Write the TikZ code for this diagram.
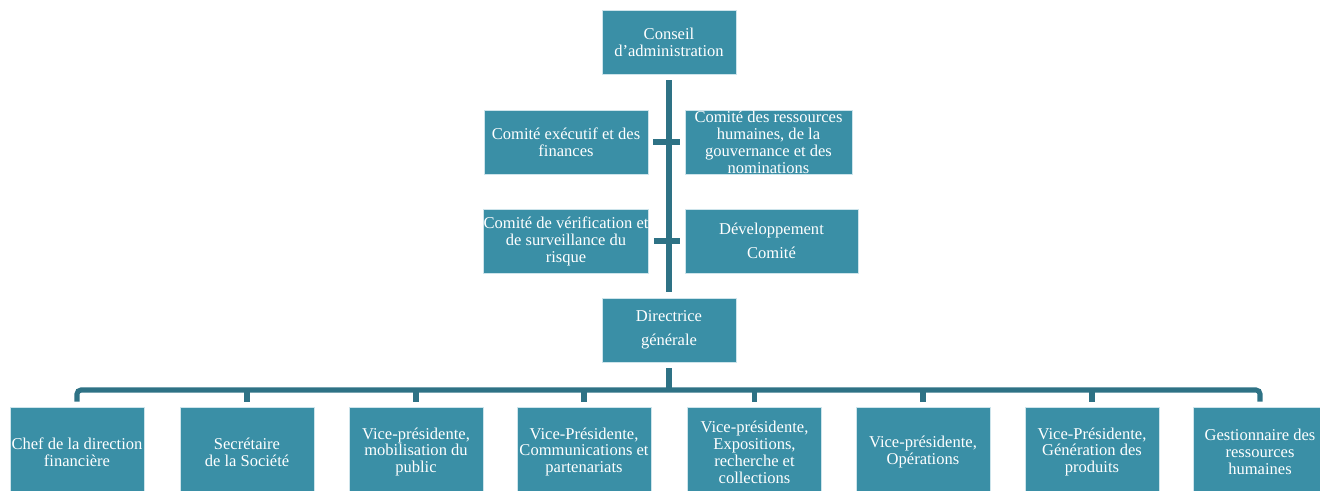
\documentclass[tikz,border=0pt]{standalone}
\usepackage{fontspec}
\setmainfont{Liberation Serif}
\definecolor{boxfill}{RGB}{58,143,166}
\definecolor{conncol}{RGB}{46,114,133}
\definecolor{boxline}{RGB}{205,228,235}
\begin{document}
\begin{tikzpicture}[x=0.75pt,y=-0.75pt,
  box/.style={rectangle, fill=boxfill, draw=boxline, line width=0.6pt, text=white,
    align=center, inner sep=0pt, font=\fontsize{12.4}{12.7}\selectfont},
  wh/.style 2 args={minimum width=#1*0.75pt, minimum height=#2*0.75pt},
  trunk/.style={draw=conncol, line width=4.6pt},
  bar/.style={draw=conncol, line width=3.8pt}]
\useasboundingbox (0,0) rectangle (1320,490);
\node[box, wh={134}{64}] (conseil) at (669,42) {Conseil\\d’administration};
\node[box, wh={164}{64}] (comex) at (566,142) {Comité exécutif et des\\finances};
\node[box, wh={167}{64}] (rh) at (768.5,142) {Comité des ressources\\humaines, de la\\gouvernance et des\\nominations};
\node[box, wh={164}{64}] (verif) at (566,241) {Comité de vérification et\\de surveillance du\\risque};
\node[box, wh={173}{64}] (dev) at (771.5,241) {Développement\\[5pt]Comité};
\node[box, wh={134}{64}] (dg) at (669,330) {Directrice\\[5pt]générale};
\node[box, wh={134}{90}] (b1) at (77,452) {Chef de la direction\\financière};
\node[box, wh={134}{90}] (b2) at (247,452) {Secrétaire\\de la Société};
\node[box, wh={134}{90}] (b3) at (416,452) {Vice-présidente,\\mobilisation du\\public};
\node[box, wh={134}{90}] (b4) at (584,452) {Vice-Présidente,\\Communications et\\partenariats};
\node[box, wh={134}{90}] (b5) at (754.5,452) {Vice-présidente,\\Expositions,\\recherche et\\collections};
\node[box, wh={134}{90}] (b6) at (923,452) {Vice-présidente,\\Opérations};
\node[box, wh={134}{90}] (b7) at (1092,452) {Vice-Présidente,\\Génération des\\produits};
\node[box, wh={134}{90}] (b8) at (1260,452) {Gestionnaire des\\ressources\\humaines};
\coordinate (bus) at (669,390);
\draw[trunk] ([yshift=-4.5pt]conseil.south) -- ([yshift=4.5pt]dg.north);
\draw[bar, shorten <=3.75pt, shorten >=3.75pt] (comex) -- (rh);
\draw[bar, shorten <=3.75pt, shorten >=3.75pt] (verif) -- (dev);
\draw[trunk] ([yshift=-4.5pt]dg.south) -- (bus);
\draw[bar, rounded corners=3pt] ([yshift=3.75pt]b1.north) |- (bus) -| ([yshift=3.75pt]b8.north);
\foreach \b in {b2,b3,b4,b5,b6,b7}
  \draw[bar] ([yshift=3.75pt]\b.north) -- (\b.north |- bus);
\end{tikzpicture}
\end{document}
